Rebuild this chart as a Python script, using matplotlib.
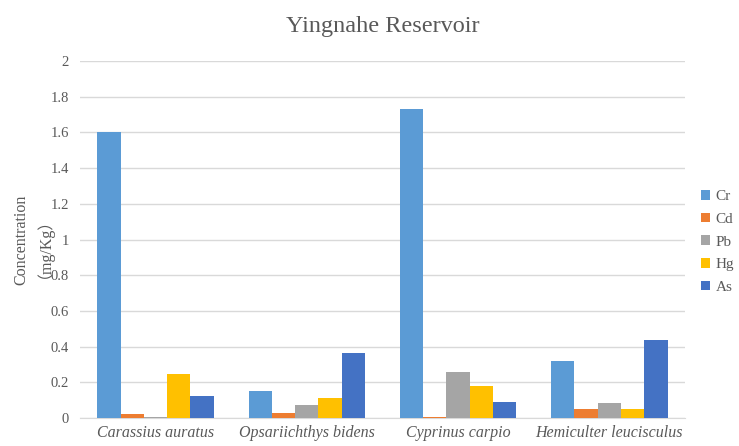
import numpy as np
import matplotlib
matplotlib.use('Agg')
import matplotlib.pyplot as plt

# heavy metal concentrations per fish species (mg/Kg)
species = ['Carassius auratus', 'Opsariichthys bidens', 'Cyprinus carpio', 'Hemiculter leucisculus']
metals = ['Cr', 'Cd', 'Pb', 'Hg', 'As']
cr = [1.60, 0.15, 1.73, 0.32]
cd = [0.02, 0.025, 0.003, 0.05]
pb = [0.003, 0.075, 0.255, 0.085]
hg = [0.245, 0.11, 0.18, 0.05]
as_ = [0.12, 0.365, 0.09, 0.435]
yticks = [0, 0.2, 0.4, 0.6, 0.8, 1, 1.2, 1.4, 1.6, 1.8, 2]
ytick_labels = ['0', '0.2', '0.4', '0.6', '0.8', '1', '1.2', '1.4', '1.6', '1.8', '2']

colors = ['#5B9BD5', '#ED7D31', '#A5A5A5', '#FFC000', '#4472C4']
series = [cr, cd, pb, hg, as_]

plt.rcParams['font.family'] = ['Liberation Serif', 'Noto Sans CJK SC', 'DejaVu Serif']

fig = plt.figure(figsize=(7.39, 4.46), dpi=100)
ax = fig.add_axes([0.108, 0.063, 0.819, 0.8])

x = np.arange(len(species))
n = len(metals)
width = 1 / (n + 1.5)
for i, (vals, c, name) in enumerate(zip(series, colors, metals)):
    offs = (i - (n - 1) / 2) * width
    ax.bar(x + offs, vals, width, color=c, label=name, zorder=3)

ax.set_xlim(-0.5, len(species) - 0.5)
ax.set_ylim(0, 2)
ax.set_yticks(yticks)
ax.set_yticklabels(ytick_labels)
ax.set_xticks(x)
ax.set_xticklabels(species, style='italic', fontsize=11.5)
ax.tick_params(axis='y', length=0, labelsize=10.5, colors='#595959', pad=8)
ax.tick_params(axis='x', length=0, colors='#595959', pad=5)
ax.grid(axis='y', color='#D9D9D9', linewidth=1, zorder=0)
for s in ['top', 'right', 'left']:
    ax.spines[s].set_visible(False)
ax.spines['bottom'].set_color('#D9D9D9')

ax.set_ylabel('Concentration\n（mg/Kg）', fontsize=11.5, color='#595959', linespacing=0.85)
ax.set_title('Yingnahe Reservoir', fontsize=17.5, color='#595959', pad=21)

ax.legend(loc='center left', bbox_to_anchor=(1.004, 0.493), frameon=False, fontsize=11,
          handlelength=0.6, handleheight=0.6, handletextpad=0.35, labelspacing=0.62,
          labelcolor='#595959')

fig.savefig('out.png', dpi=100)
